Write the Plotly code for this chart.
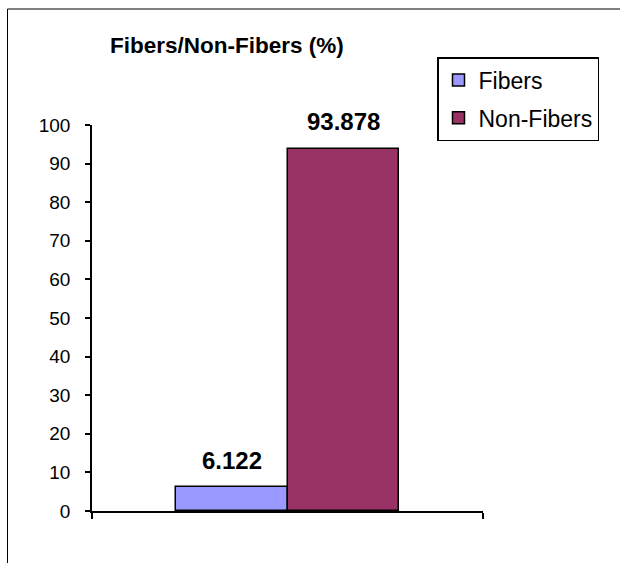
import plotly.graph_objects as go

# Data
series_names = ["Fibers", "Non-Fibers"]
series_values = [6.122, 93.878]
series_colors = ["#9999FF", "#993366"]
y_tick_values = [0, 10, 20, 30, 40, 50, 60, 70, 80, 90, 100]

W, H = 620, 563
ML, MR, MT, MB = 92, 137, 125, 52
PW, PH = W - ML - MR, H - MT - MB


def px_x(px):
    return (px - ML) / PW


def px_y(py):
    return (H - MB - py) / PH


FONT = "Liberation Sans, Arial, sans-serif"
BAR_W = 0.285  # width of each bar on the [-0.5, 0.5] category span

fig = go.Figure()
for i, (name, val, col) in enumerate(zip(series_names, series_values, series_colors)):
    offset = -BAR_W if i == 0 else 0.0
    fig.add_trace(go.Bar(
        x=[0], y=[val], name=name,
        width=[BAR_W], offset=[offset],
        marker=dict(color=col, line=dict(color="black", width=1.5)),
        legendgroup=name,
    ))
    fig.add_annotation(
        x=offset + BAR_W / 2, y=val, xref="x", yref="y",
        text=f"<b>{val:.3f}</b>", showarrow=False,
        yanchor="middle", yshift=27,
        font=dict(family=FONT, size=24, color="black"),
    )

# Frame lines along the top and left edges
fig.add_shape(type="line", xref="paper", yref="paper",
              x0=px_x(7.5), x1=px_x(621), y0=px_y(9), y1=px_y(9),
              line=dict(color="black", width=1))
fig.add_shape(type="line", xref="paper", yref="paper",
              x0=px_x(7.5), x1=px_x(7.5), y0=px_y(9), y1=px_y(564),
              line=dict(color="black", width=1))

fig.update_layout(
    width=W, height=H,
    margin=dict(l=ML, r=MR, t=MT, b=MB, autoexpand=False),
    paper_bgcolor="white", plot_bgcolor="white",
    font=dict(family=FONT, color="black"),
    title=dict(text="<b>Fibers/Non-Fibers (%)</b>", x=110 / W, xanchor="left",
               xref="container", y=1 - 45 / H, yref="container", yanchor="middle",
               font=dict(family=FONT, size=22.5, color="black")),
    showlegend=True,
    legend=dict(x=px_x(437), y=px_y(57), xanchor="left", yanchor="top",
                bordercolor="black", borderwidth=1.5, bgcolor="white",
                font=dict(family=FONT, size=23, color="black"),
                tracegroupgap=5, traceorder="grouped", itemwidth=30),
    bargap=0, bargroupgap=0,
)
fig.update_xaxes(range=[-0.5, 0.5], showgrid=False, zeroline=False,
                 showline=True, linecolor="black", linewidth=1.5,
                 tickvals=[-0.5, 0.5], ticktext=["", ""], ticks="outside",
                 ticklen=6, tickcolor="black", tickwidth=1.5, fixedrange=True)
fig.update_yaxes(range=[0, 100], tickvals=y_tick_values, showgrid=False,
                 zeroline=False, showline=True, linecolor="black", linewidth=1.5,
                 ticks="outside", ticklen=5, tickcolor="black", tickwidth=1.5,
                 ticklabelstandoff=11,
                 tickfont=dict(family=FONT, size=19, color="black"), fixedrange=True)

fig.write_html("out.html")
